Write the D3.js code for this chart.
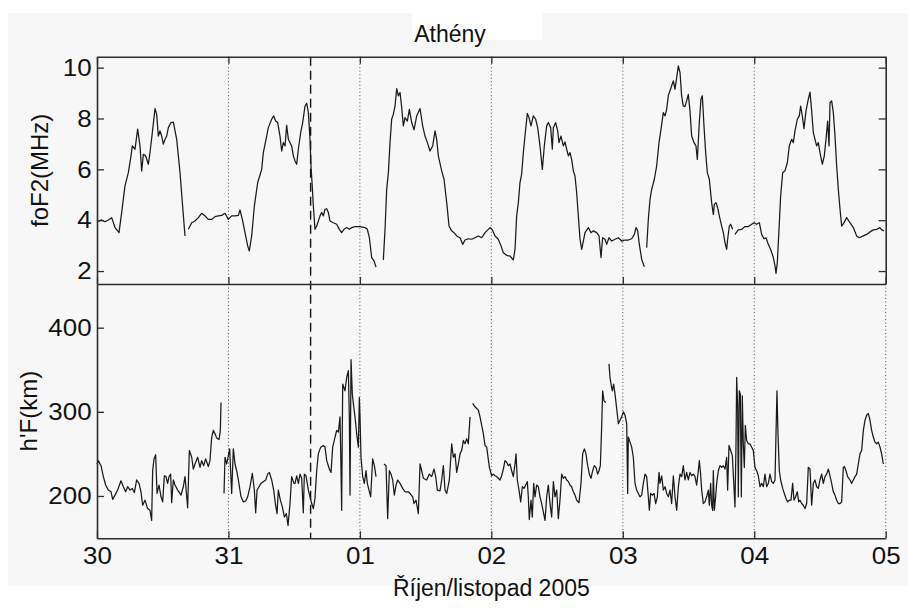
<!DOCTYPE html>
<html><head><meta charset="utf-8">
<script src="https://cdn.jsdelivr.net/npm/d3@7"></script>
<style>
body{margin:0;background:#fff}
text{font-family:"Liberation Sans",Arial,Helvetica,sans-serif;fill:#111}
</style>
</head><body>
<svg id="c" width="908" height="610"></svg>
<script>
// ---- data ----
const dayTicks = [0, 24, 48, 72, 96, 120, 144];          // hours from 30 Oct 00 UT
const dayLabels = ["30", "31", "01", "02", "03", "04", "05"];
const foF2Ticks = [2, 4, 6, 8, 10];
const hFTicks = [200, 300, 400];
const eventHour = 39;                                     // dashed marker
const title = "Athény";
const xLabel = "Říjen/listopad 2005";
const foF2Label = "foF2(MHz)";
const hFLabel = "h'F(km)";

// [hour, foF2 MHz] (null = data gap)
const foF2Series = [
[0,3.94],[0.85,4.01],[1.46,3.94],[2.07,4.01],[2.68,4.10],[3.29,3.71],[4.02,3.51],[4.50,4.30],[5.11,5.35],[5.72,5.87],[6.21,6.53],[6.45,6.92],[6.94,6.79],[7.42,7.58],[7.85,6.92],[8.16,5.94],[8.46,6.59],[8.89,6.53],[9.37,6.20],[9.68,6.66],[10.10,7.44],[10.59,8.39],[10.89,8.17],[11.20,7.31],[11.50,7.51],[11.81,7.31],[12.11,6.99],[12.42,7.18],[12.72,7.31],[13.03,7.64],[13.51,7.84],[13.94,7.86],[14.55,7.18],[15.16,5.87],[15.58,4.69],[16.07,3.38],[16.4,null],
[16.68,3.64],[17.29,3.90],[17.89,3.97],[18.50,4.10],[19.11,4.27],[19.72,4.17],[20.33,4.03],[20.94,4.03],[21.55,4.14],[22.15,4.17],[22.76,4.19],[23.37,4.27],[23.98,4.03],[24.59,4.17],[25.20,4.17],[25.81,4.19],[26.11,4.40],[26.54,4.03],[27.02,3.51],[27.51,2.99],[27.81,2.79],[28.24,3.38],[28.73,4.56],[29.34,5.48],[30.07,6.00],[30.37,6.66],[30.98,7.31],[31.28,7.64],[31.89,7.97],[32.26,8.10],[32.62,7.90],[32.99,7.84],[33.41,7.31],[33.72,6.72],[34.02,7.05],[34.33,6.92],[34.63,7.73],[34.94,7.18],[35.54,6.92],[35.85,6.53],[36.15,6.33],[36.46,6.20],[36.76,6.79],[37.19,7.44],[37.55,7.84],[37.98,8.49],[38.28,8.60],[38.59,8.23],[38.89,7.18],[39.07,6.13],[39.26,5.48],[39.50,4.56],[39.80,3.64],[40.11,3.77],[40.72,4.17],[41.02,4.30],[41.33,4.17],[41.63,4.43],[41.94,4.45],[42.24,4.30],[42.54,3.97],[43.15,3.90],[43.76,3.84],[44.25,3.64],[44.67,3.51],[45.10,3.64],[45.59,3.71],[46.07,3.64],[46.50,3.71],[47.11,3.75],[48.02,3.75],[48.93,3.71],[49.36,3.64],[49.73,3.31],[50.15,2.53],[50.58,2.40],[50.94,2.16],[51.6,null],
[52.28,2.44],[52.59,3.64],[52.89,5.21],[53.20,5.87],[53.50,7.05],[53.80,7.97],[54.11,8.17],[54.41,8.49],[54.72,9.17],[55.02,8.89],[55.33,9.02],[55.63,8.43],[55.93,7.71],[56.24,8.03],[56.66,7.90],[57.03,8.36],[57.46,7.84],[57.88,7.55],[58.37,8.10],[58.98,8.39],[59.46,7.71],[59.89,7.31],[60.32,7.05],[60.80,6.72],[61.29,6.92],[61.72,7.51],[62.02,7.18],[62.32,6.53],[62.93,5.94],[63.36,5.61],[63.85,4.69],[64.27,3.77],[64.76,3.58],[65.18,3.51],[65.67,3.38],[66.28,3.31],[66.77,3.05],[67.19,3.22],[67.80,3.27],[68.41,3.25],[69.02,3.31],[69.63,3.38],[70.24,3.31],[70.85,3.51],[71.45,3.64],[71.75,3.71],[72.18,3.62],[72.67,3.38],[73.27,3.25],[73.76,2.99],[74.19,2.72],[74.80,2.62],[75.40,2.59],[76.01,2.44],[76.32,2.85],[76.62,4.17],[76.93,4.69],[77.23,5.48],[77.53,5.81],[77.84,6.66],[78.14,7.31],[78.57,8.20],[78.87,8.03],[79.24,7.71],[79.67,8.10],[80.09,7.97],[80.46,7.64],[80.88,6.92],[81.31,6.00],[81.67,6.92],[82.10,7.71],[82.40,7.84],[82.83,7.64],[83.13,6.79],[83.32,7.64],[83.74,7.84],[84.11,7.51],[84.35,7.05],[84.72,7.31],[85.14,6.92],[85.45,7.08],[85.75,6.79],[86.06,6.53],[86.36,6.66],[86.66,6.39],[86.97,5.94],[87.27,5.74],[87.58,5.08],[87.88,4.17],[88.19,3.25],[88.49,2.85],[88.80,3.18],[89.10,3.51],[89.71,3.71],[90.19,3.51],[90.62,3.58],[91.23,3.51],[91.66,3.38],[92.02,2.53],[92.32,3.31],[92.75,3.25],[93.06,3.05],[93.48,3.31],[93.97,3.18],[94.58,3.25],[95.19,3.31],[95.80,3.18],[96.40,3.22],[97.01,3.22],[97.62,3.27],[98.11,3.44],[98.41,3.71],[98.72,3.58],[99.02,3.05],[99.45,2.46],[99.93,2.17],[100.15,null],
[100.36,2.92],[100.66,4.03],[100.97,4.82],[101.27,5.21],[101.76,5.61],[102.18,6.13],[102.61,7.05],[102.98,7.58],[103.40,8.23],[103.71,8.10],[104.01,8.36],[104.32,8.91],[104.80,9.21],[105.23,9.48],[105.53,9.15],[105.84,9.61],[106.14,10.07],[106.45,9.80],[106.74,8.89],[107.05,8.49],[107.35,8.47],[107.66,8.69],[107.96,8.95],[108.27,8.30],[108.57,7.31],[109.00,7.05],[109.36,6.92],[109.61,6.39],[109.97,7.84],[110.27,8.76],[110.52,8.89],[110.82,7.71],[111.13,6.66],[111.43,5.87],[111.80,5.61],[112.22,4.69],[112.53,4.23],[112.71,4.62],[113.01,4.69],[113.32,4.49],[113.62,4.17],[114.05,3.77],[114.35,3.51],[114.66,3.12],[114.96,2.85],[115.14,3.25],[115.45,3.77],[115.69,3.84],[116.06,3.64],[116.27,null],
[116.48,3.44],[117.09,3.62],[117.70,3.64],[118.31,3.75],[118.92,3.75],[119.53,3.84],[119.95,3.90],[120.44,3.84],[120.93,3.90],[121.35,3.44],[121.78,3.27],[122.14,3.31],[122.57,3.05],[123.00,2.85],[123.48,2.53],[123.79,2.20],[123.97,1.91],[124.21,2.33],[124.52,3.64],[124.82,4.95],[125.19,5.87],[125.61,5.94],[126.04,6.26],[126.40,6.92],[126.83,7.18],[127.13,7.05],[127.44,7.51],[127.86,7.97],[128.23,8.10],[128.47,8.49],[128.78,8.10],[129.08,7.60],[129.45,8.30],[129.87,8.76],[130.18,9.04],[130.48,8.30],[130.79,7.44],[131.09,7.18],[131.39,6.92],[131.70,7.05],[132.00,6.66],[132.43,6.20],[132.79,6.53],[133.10,7.18],[133.40,7.90],[133.65,6.92],[133.83,8.62],[134.13,8.69],[134.44,8.23],[134.74,7.31],[135.05,6.13],[135.35,5.21],[135.66,4.43],[135.96,3.77],[136.39,3.90],[136.87,4.10],[137.48,3.90],[138.09,3.71],[138.70,3.38],[139.18,3.31],[139.92,3.38],[140.52,3.44],[141.13,3.54],[141.74,3.62],[142.35,3.64],[142.96,3.71],[143.26,3.62],[143.69,3.58]
];

// [hour, h'F km] (null = data gap)
const hFSeries = [
[0,238],[0.24,242],[0.73,236],[1.16,223],[1.58,213],[2.07,207],[2.56,205],[2.86,196],[3.29,201],[3.77,207],[4.38,218],[4.81,211],[5.23,205],[5.60,211],[6.03,207],[6.45,209],[6.82,204],[7.24,219],[7.67,215],[8.03,205],[8.34,189],[8.76,195],[9.25,185],[9.68,183],[9.98,171],[10.16,230],[10.41,244],[10.71,249],[10.96,203],[11.32,213],[11.69,199],[11.99,193],[12.30,224],[12.60,223],[12.90,215],[13.15,223],[13.45,226],[13.63,192],[13.94,219],[14.24,213],[14.73,207],[15.34,201],[15.76,211],[16.07,223],[16.55,186],[16.86,254],[17.29,246],[17.59,232],[17.89,238],[18.38,246],[18.81,234],[19.11,242],[19.48,236],[19.84,244],[20.33,235],[20.63,242],[20.94,270],[21.24,278],[21.55,274],[21.85,269],[22.28,267],[22.52,278],[22.64,311],[22.9,null],
[23.19,203],[23.37,246],[23.68,238],[23.98,248],[24.22,256],[24.59,203],[24.89,256],[25.20,238],[25.50,230],[25.81,219],[26.29,199],[26.72,193],[27.15,194],[27.51,199],[27.94,211],[28.36,227],[28.73,207],[28.97,180],[29.22,207],[29.58,211],[29.95,215],[30.37,217],[30.80,219],[31.16,226],[31.47,228],[31.89,219],[32.26,207],[32.56,191],[32.87,179],[33.11,207],[33.48,195],[33.84,187],[34.21,175],[34.57,179],[34.88,165],[35.24,191],[35.54,223],[35.97,215],[36.15,215],[36.46,224],[36.76,215],[37.07,226],[37.37,221],[37.67,180],[37.86,226],[38.16,224],[38.59,207],[38.89,199],[39.20,191],[39.50,185],[39.80,197],[40.11,230],[40.41,250],[40.84,258],[41.33,260],[41.63,258],[41.94,242],[42.42,232],[42.73,228],[43.03,258],[43.46,270],[43.76,278],[44.07,276],[44.37,294],[44.49,254],[44.67,183],[44.86,333],[45.28,325],[45.59,341],[45.89,349],[46.07,294],[46.20,201],[46.38,362],[46.62,321],[46.80,310],[47.11,294],[47.41,274],[47.72,258],[47.90,317],[48.02,294],[48.20,246],[48.51,223],[48.81,215],[49.12,230],[49.36,215],[49.66,207],[49.97,199],[50.33,244],[50.64,236],[50.94,223],[51.6,null],
[52.40,238],[52.77,236],[53.07,173],[53.38,230],[53.68,226],[53.99,219],[54.29,201],[54.60,213],[54.90,219],[55.33,215],[55.81,209],[56.24,205],[56.85,205],[57.27,202],[57.64,199],[57.88,191],[58.25,195],[58.67,179],[58.98,238],[59.28,230],[59.59,221],[60.19,219],[60.68,226],[61.11,223],[61.53,232],[61.84,223],[62.14,207],[62.63,206],[62.93,219],[63.24,236],[63.54,207],[63.85,203],[64.33,219],[64.76,262],[65.06,246],[65.37,250],[65.67,228],[65.98,238],[66.28,250],[66.58,254],[66.89,266],[67.19,262],[67.50,268],[67.80,262],[68.11,294],[68.35,null],
[68.59,310],[69.02,306],[69.63,302],[69.93,294],[70.54,274],[70.85,260],[71.15,258],[71.64,234],[72.06,224],[72.36,226],[72.67,224],[72.97,223],[73.27,221],[73.58,219],[73.88,224],[74.19,232],[74.49,242],[74.80,240],[75.10,236],[75.40,238],[75.71,230],[76.01,223],[76.32,238],[76.50,250],[76.74,219],[77.05,207],[77.35,193],[77.66,211],[77.96,209],[78.27,213],[78.57,217],[78.75,199],[78.93,172],[79.24,195],[79.48,175],[79.73,215],[79.97,199],[80.27,213],[80.58,211],[80.88,199],[81.19,191],[81.49,181],[81.80,171],[82.10,199],[82.40,213],[82.71,191],[83.01,175],[83.32,217],[83.62,199],[83.93,207],[84.23,173],[84.53,195],[84.84,226],[85.14,221],[85.45,223],[85.75,219],[86.06,217],[86.36,213],[86.66,211],[86.97,205],[87.27,201],[87.58,195],[88.00,192],[88.37,215],[88.67,250],[88.98,256],[89.28,250],[89.59,236],[89.89,226],[90.19,221],[90.50,230],[90.80,236],[91.11,234],[91.41,226],[91.66,230],[91.90,236],[92.14,282],[92.32,325],[92.57,313],[92.87,311],[93.2,null],
[93.48,357],[93.66,341],[93.85,333],[94.09,325],[94.33,333],[94.58,321],[94.88,304],[95.19,286],[95.49,290],[95.80,294],[96.10,300],[96.40,296],[96.71,286],[96.89,203],[97.01,270],[97.32,264],[97.62,258],[97.92,246],[98.23,215],[98.53,207],[98.84,203],[99.14,199],[99.45,201],[99.75,215],[100.06,226],[100.36,223],[100.66,199],[100.85,183],[101.09,203],[101.39,201],[101.70,203],[102.00,191],[102.31,199],[102.61,228],[102.79,215],[103.10,224],[103.40,207],[103.71,211],[104.01,203],[104.32,199],[104.62,207],[104.92,191],[105.23,224],[105.53,199],[105.84,183],[106.14,211],[106.45,226],[106.75,223],[107.05,236],[107.35,219],[107.66,228],[107.96,219],[108.27,228],[108.57,224],[108.87,226],[109.18,223],[109.48,213],[109.79,230],[109.97,242],[110.21,226],[110.40,207],[110.70,191],[111.00,193],[111.31,199],[111.61,207],[111.80,189],[112.04,215],[112.22,189],[112.40,183],[112.53,230],[112.71,183],[112.95,199],[113.14,215],[113.44,230],[113.74,236],[114.05,234],[114.35,236],[114.66,232],[114.96,246],[115.14,207],[115.39,260],[115.69,254],[116.00,248],[116.48,187],[116.67,262],[116.79,341],[116.97,306],[117.09,199],[117.27,325],[117.46,321],[117.64,199],[117.82,319],[118.00,262],[118.19,234],[118.37,284],[118.61,266],[118.92,262],[119.22,262],[119.53,258],[119.83,254],[120.13,234],[120.44,230],[120.74,224],[121.05,211],[121.35,215],[121.66,211],[121.96,226],[122.27,211],[122.57,215],[122.87,226],[123.18,217],[123.48,215],[123.79,219],[123.97,274],[124.15,325],[124.33,274],[124.58,230],[124.82,219],[125.19,209],[125.49,203],[125.80,197],[126.10,193],[126.40,195],[126.71,195],[127.01,215],[127.26,195],[127.56,199],[127.86,205],[128.11,193],[128.35,195],[128.66,191],[128.96,189],[129.26,185],[129.57,191],[129.87,234],[130.18,232],[130.48,189],[130.79,215],[131.09,219],[131.39,211],[131.70,209],[132.00,219],[132.31,226],[132.61,215],[132.92,223],[133.22,226],[133.53,232],[133.83,224],[134.13,215],[134.44,205],[134.74,201],[135.05,195],[135.35,191],[135.66,191],[135.96,193],[136.26,234],[136.45,235],[136.75,230],[137.05,223],[137.48,219],[137.79,215],[138.09,219],[138.40,223],[138.70,226],[139.00,238],[139.31,250],[139.61,254],[139.92,278],[140.22,290],[140.52,296],[140.83,298],[141.13,290],[141.43,278],[141.74,270],[142.04,264],[142.35,262],[142.65,264],[142.96,258],[143.26,250],[143.57,238]
];

// ---- layout ----
const W = 908, H = 610;
const L = 97, R = 885.7;
const topT = 56.7, topB = 284, botB = 538.3;
const FS = 24;
const frame = "#2e2e2e";

const svg = d3.select("#c");
svg.append("rect").attr("x", 8).attr("y", 13).attr("width", W - 8).attr("height", 573).attr("fill", "#f7f7f7");
svg.append("rect").attr("x", 412).attr("y", 13).attr("width", 130).attr("height", 27).attr("fill", "#ffffff");

const x = d3.scaleLinear().domain([0, 144]).range([L, R]);
const yTop = d3.scaleLinear().domain([1.49, 10.43]).range([topB, topT]);
const yBot = d3.scaleLinear().domain([149.7, 451.9]).range([botB, topB]);

// day grid lines (dotted)
const gTop = dayTicks.filter(d => d > 0 && d < 144);
svg.append("g").selectAll("line").data(gTop).join("line")
  .attr("x1", d => x(d)).attr("x2", d => x(d)).attr("y1", topT).attr("y2", topB)
  .attr("stroke", "#555").attr("stroke-width", 1).attr("stroke-dasharray", "1,2.5");
svg.append("g").selectAll("line").data(dayTicks.filter(d => d > 0)).join("line")
  .attr("x1", d => x(d)).attr("x2", d => x(d)).attr("y1", topB).attr("y2", botB)
  .attr("stroke", "#555").attr("stroke-width", 1).attr("stroke-dasharray", "1,2.5");

// event marker (dashed)
svg.append("line").attr("x1", x(eventHour)).attr("x2", x(eventHour))
  .attr("y1", topT).attr("y2", botB).attr("stroke", "#111").attr("stroke-width", 1.4)
  .attr("stroke-dasharray", "9,5");

// data lines
const lineTop = d3.line().defined(d => d[1] != null).x(d => x(d[0])).y(d => yTop(d[1]));
const lineBot = d3.line().defined(d => d[1] != null).x(d => x(d[0])).y(d => yBot(d[1]));
svg.append("path").datum(foF2Series).attr("d", lineTop)
  .attr("fill", "none").attr("stroke", "#1a1a1a").attr("stroke-width", 1.25).attr("stroke-linejoin", "round");
svg.append("path").datum(hFSeries).attr("d", lineBot)
  .attr("fill", "none").attr("stroke", "#1a1a1a").attr("stroke-width", 1.25).attr("stroke-linejoin", "round");

function styleAxis(g) {
  g.selectAll(".domain").attr("stroke", frame).attr("stroke-width", 1.6);
  g.selectAll(".tick line").attr("stroke", frame).attr("stroke-width", 1.3);
  g.selectAll("text").attr("font-size", FS).attr("font-family", "Liberation Sans, Arial, sans-serif")
    .attr("fill", "#111").attr("transform", "scale(1.08,1)");
}

// top panel axes
svg.append("g").attr("transform", `translate(${L},0)`)
  .call(d3.axisLeft(yTop).tickValues(foF2Ticks).tickSize(-7).tickSizeOuter(0).tickPadding(5))
  .call(styleAxis);
svg.append("g").attr("transform", `translate(${R},0)`)
  .call(d3.axisRight(yTop).tickValues(foF2Ticks).tickSize(-7).tickSizeOuter(0).tickFormat(""))
  .call(styleAxis);
svg.append("g").attr("transform", `translate(0,${topT})`)
  .call(d3.axisTop(x).tickValues(dayTicks).tickSize(-7).tickSizeOuter(0).tickFormat(""))
  .call(styleAxis);
svg.append("g").attr("transform", `translate(0,${topB})`)
  .call(d3.axisBottom(x).tickValues(dayTicks).tickSize(-7).tickSizeOuter(0).tickFormat(""))
  .call(styleAxis);

// bottom panel axes
svg.append("g").attr("transform", `translate(${L},0)`)
  .call(d3.axisLeft(yBot).tickValues(hFTicks).tickSize(-7).tickSizeOuter(0).tickPadding(5))
  .call(styleAxis);
svg.append("g").attr("transform", `translate(0,${botB})`)
  .call(d3.axisBottom(x).tickValues(dayTicks).tickSize(-7).tickSizeOuter(0).tickPadding(9)
    .tickFormat((d, i) => dayLabels[i]))
  .call(styleAxis);

// labels
svg.append("text").attr("x", 450).attr("y", 42).attr("text-anchor", "middle")
  .attr("font-size", 23).text(title);
svg.append("text").attr("x", (L + R) / 2).attr("y", 596).attr("text-anchor", "middle")
  .attr("font-size", 23).text(xLabel);
svg.append("text").attr("transform", `translate(48,${(topT + topB) / 2}) rotate(-90)`)
  .attr("text-anchor", "middle").attr("font-size", 24).text(foF2Label);
svg.append("text").attr("transform", `translate(37,${(topB + botB) / 2}) rotate(-90)`)
  .attr("text-anchor", "middle").attr("font-size", 24).text(hFLabel);
</script>
</body></html>
